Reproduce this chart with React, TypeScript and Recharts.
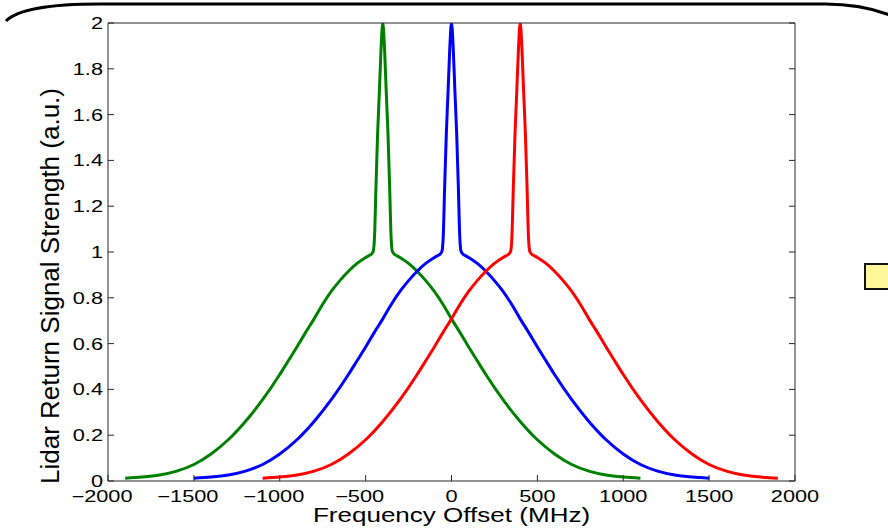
import React from "react";
import { LineChart, Line, XAxis, YAxis, Label } from "recharts";

// shape of each return: offset from line centre (MHz) -> strength
const offsets = [0, 10, 20, 30, 40, 48, 55, 65, 80, 100, 150, 200, 250, 300, 350, 400, 450, 500, 550, 600, 700, 800, 900, 1000, 1100, 1200, 1300, 1400, 1500];
const profile = [2.0, 1.89, 1.7, 1.52, 1.28, 1.07, 1.005, 0.992, 0.985, 0.976, 0.95, 0.916, 0.875, 0.828, 0.772, 0.708, 0.648, 0.585, 0.525, 0.465, 0.355, 0.26, 0.18, 0.118, 0.072, 0.043, 0.026, 0.017, 0.012];

const seriesNames = ["green", "blue", "red"];
const seriesCenters = [-400, 0, 400];
const seriesColors = ["#008000", "#0000ff", "#ff0000"];

const xTicks = [-2000, -1500, -1000, -500, 0, 500, 1000, 1500, 2000];
const yTicks = [0, 0.2, 0.4, 0.6, 0.8, 1, 1.2, 1.4, 1.6, 1.8, 2];

const FONT = '"Liberation Sans", Arial, Helvetica, sans-serif';
const AXIS = "#262626";

const buildSeries = (center: number) => {
  const left = offsets
    .slice(1)
    .map((o, i) => ({ x: center - o, y: profile[i + 1] }))
    .reverse();
  const right = offsets.map((o, i) => ({ x: center + o, y: profile[i] }));
  return [...left, ...right];
};

const fmtX = (v: number) => (v < 0 ? "\u2212" + Math.abs(v) : String(v));
const fmtY = (v: number) => String(Number(v.toFixed(1)));

const XTick = (props: any) => {
  const { x, y, payload } = props;
  const v = payload.value as number;
  return (
    <text
      transform={`translate(${x + (v < 0 ? -6 : 0)},${y}) scale(1.36,1)`}
      textAnchor="middle"
      fontSize={16}
      fontFamily={FONT}
      fill="#000"
      dy={12}
    >
      {fmtX(v)}
    </text>
  );
};

const YTick = (props: any) => {
  const { x, y, payload } = props;
  return (
    <text
      transform={`translate(${x},${y}) scale(1.36,1)`}
      textAnchor="end"
      fontSize={16}
      fontFamily={FONT}
      fill="#000"
      dy={6}
    >
      {fmtY(payload.value)}
    </text>
  );
};

const NoTick = () => null;

export default function App() {
  const series = seriesCenters.map(buildSeries);

  return (
    <div
      style={{
        position: "absolute",
        left: 0,
        top: 0,
        width: 888,
        height: 532,
        background: "#fff",
        overflow: "hidden",
      }}
    >
      <LineChart
        width={888}
        height={532}
        margin={{ top: 22, right: 92, bottom: 21, left: 48 }}
        style={{ position: "absolute", left: 0, top: 0, fontFamily: FONT }}
      >
        <XAxis
          dataKey="x"
          type="number"
          domain={[-2000, 2000]}
          ticks={xTicks}
          allowDataOverflow
          height={30}
          tickSize={-6}
          tickMargin={15}
          stroke={AXIS}
          tick={<XTick />}
        >
          <Label
            content={() => (
              <text
                transform="translate(451.5,521.5) scale(1.24,1)"
                textAnchor="middle"
                fontSize={21}
                fontFamily={FONT}
                fill="#000"
              >
                Frequency Offset (MHz)
              </text>
            )}
          />
        </XAxis>
        <XAxis
          xAxisId="top"
          orientation="top"
          type="number"
          domain={[-2000, 2000]}
          ticks={xTicks}
          allowDataOverflow
          height={1}
          tickSize={-6}
          tick={<NoTick />}
          stroke={AXIS}
        />
        <YAxis
          type="number"
          domain={[0, 2]}
          ticks={yTicks}
          allowDataOverflow
          width={60}
          tickSize={-6}
          tickMargin={11}
          stroke={AXIS}
          tick={<YTick />}
        >
          <Label
            content={() => (
              <text
                transform="translate(59,286) rotate(-90)"
                textAnchor="middle"
                fontSize={26}
                fontFamily={FONT}
                fill="#000"
              >
                Lidar Return Signal Strength (a.u.)
              </text>
            )}
          />
        </YAxis>
        <YAxis
          yAxisId="right"
          orientation="right"
          type="number"
          domain={[0, 2]}
          ticks={yTicks}
          allowDataOverflow
          width={1}
          tickSize={-6}
          tick={<NoTick />}
          stroke={AXIS}
        />
        {series.map((data, i) => (
          <Line
            key={seriesNames[i]}
            name={seriesNames[i]}
            data={data}
            dataKey="y"
            type="monotone"
            stroke={seriesColors[i]}
            strokeWidth={3}
            dot={false}
            isAnimationActive={false}
          />
        ))}
      </LineChart>
      <svg
        width={888}
        height={532}
        style={{ position: "absolute", left: 0, top: 0, pointerEvents: "none" }}
      >
        <path
          d="M 6 21 C 18 9, 50 4, 100 4 L 825 4 C 855 4, 875 9, 892 16"
          fill="none"
          stroke="#000"
          strokeWidth={3}
        />
      </svg>
      <div
        style={{
          position: "absolute",
          left: 864,
          top: 263,
          width: 30,
          height: 23,
          background: "#fff79a",
          border: "2px solid #111",
        }}
      />
    </div>
  );
}
